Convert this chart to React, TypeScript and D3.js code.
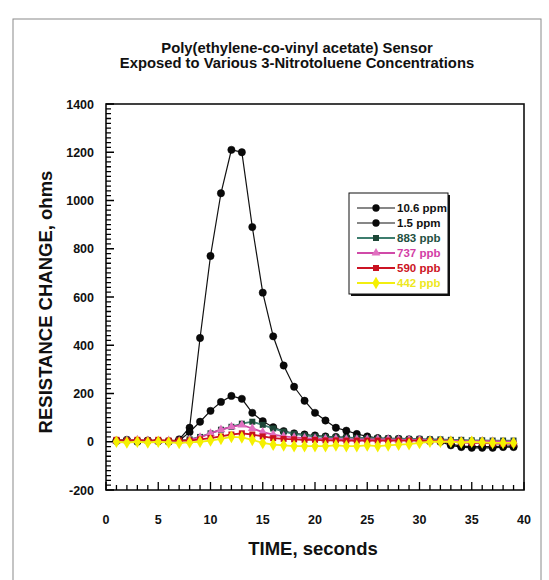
import { useEffect, useRef } from 'react';
import * as d3 from 'd3';

// sample times, seconds
const TIME = [1, 2, 3, 4, 5, 6, 7, 8, 9, 10, 11, 12, 13, 14, 15, 16, 17, 18, 19, 20,
  21, 22, 23, 24, 25, 26, 27, 28, 29, 30, 31, 32, 33, 34, 35, 36, 37, 38, 39];

const PPM_10_6 = [5, 8, 3, 5, 2, 0, 10, 58, 430, 770, 1030, 1210, 1200, 890, 618, 437, 316,
  228, 170, 120, 88, 58, 46, 32, 22, 15, 12, 10, 8, 5, 2, 0, -15, -22, -25, -25, -25, -22, -22];
const PPM_1_5 = [3, 5, 0, 5, 3, 2, 5, 40, 83, 128, 165, 190, 178, 120, 85, 60, 44,
  35, 30, 26, 22, 20, 18, 16, 15, 14, 12, 12, 10, 10, 8, 5, -10, -18, -20, -20, -20, -18, -18];
const PPB_883 = [5, 8, 3, 5, 3, 2, 5, 10, 20, 35, 50, 62, 75, 83, 70, 55, 42,
  33, 27, 22, 20, 18, 17, 16, 15, 15, 14, 13, 12, 12, 10, 10, 8, 8, 6, 6, 5, 5, 5];
const PPB_737 = [3, 5, 8, 5, 3, 5, 3, 8, 18, 35, 50, 62, 70, 55, 40, 30, 22,
  18, 15, 13, 12, 12, 10, 10, 10, 10, 10, 8, 8, 8, 6, 5, 5, 3, 3, 3, 2, 0, 0];
const PPB_590 = [8, 5, 8, 5, 8, 5, 5, 5, 10, 15, 22, 30, 35, 30, 22, 15, 12,
  10, 8, 8, 6, 6, 5, 5, 5, 5, 5, 5, 5, 5, 3, 3, 0, -3, -5, -5, -8, -8, -8];
const PPB_442 = [0, -3, 0, -3, 0, -3, -5, -3, 0, 5, 12, 20, 18, 8, -5, -12, -15,
  -18, -18, -18, -18, -15, -18, -18, -15, -18, -15, -12, -10, -5, 0, 0, 0, -3, 0, -3, -5, -5, -5];

const SERIES_LABELS = ['10.6 ppm', '1.5 ppm', '883 ppb', '737 ppb', '590 ppb', '442 ppb'];
const SERIES_VALUES = [PPM_10_6, PPM_1_5, PPB_883, PPB_737, PPB_590, PPB_442];
const LINE_COLORS = ['#111111', '#111111', '#3e7d6e', '#d04aa8', '#cc1424', '#f2ee10'];
const MARKER_COLORS = ['#0a0a0a', '#0a0a0a', '#1d4636', '#e070c0', '#c8101e', '#f5f000'];
const TEXT_COLORS = ['#111111', '#111111', '#23503f', '#d23ea6', '#cc1424', '#eee820'];
const MARKERS = [d3.symbolCircle, d3.symbolCircle, d3.symbolSquare, d3.symbolTriangle, d3.symbolSquare, d3.symbolDiamond];

const X_TICKS = [0, 5, 10, 15, 20, 25, 30, 35, 40];
const Y_TICKS = [-200, 0, 200, 400, 600, 800, 1000, 1200, 1400];

export default function App() {
  const svgRef = useRef<SVGSVGElement>(null);
  const width = 549;
  const height = 580;

  useEffect(() => {
    if (!svgRef.current) return;
    const svg = d3.select(svgRef.current);
    svg.selectAll('*').remove();

    const font = '"Liberation Sans", Arial, Helvetica, sans-serif';
    const left = 106, right = 524, top = 104, bottom = 490;

    const x = d3.scaleLinear().domain([0, 40]).range([left, right]);
    const y = d3.scaleLinear().domain([-200, 1400]).range([bottom, top]);

    // outer scan frame
    svg.append('rect')
      .attr('x', 13).attr('y', 19).attr('width', 528).attr('height', 570)
      .attr('fill', 'none').attr('stroke', '#8a8a8a').attr('stroke-width', 1);

    // title
    const title = svg.append('g').attr('font-family', font).attr('font-weight', 'bold')
      .attr('font-size', 14.8).attr('text-anchor', 'middle').attr('fill', '#111');
    title.append('text').attr('x', 297).attr('y', 53).text('Poly(ethylene-co-vinyl acetate) Sensor');
    title.append('text').attr('x', 297).attr('y', 68).text('Exposed to Various 3-Nitrotoluene Concentrations');

    // frame
    svg.append('rect')
      .attr('x', left).attr('y', top).attr('width', right - left).attr('height', bottom - top)
      .attr('fill', 'none').attr('stroke', '#111').attr('stroke-width', 1.6);

    // ticks (inward, left and bottom only)
    const yTickPath = d3.range(-200, 1401, 20)
      .map(d => `M${left},${y(d)}H${left + (d % 200 === 0 ? 8 : 5)}`).join('');
    svg.append('path').attr('d', yTickPath)
      .attr('fill', 'none').attr('stroke', '#000').attr('stroke-width', 1.3);
    const xTickPath = d3.range(0, 41, 1)
      .map(d => `M${x(d)},${bottom}V${bottom - (d % 5 === 0 ? 8 : 5)}`).join('');
    svg.append('path').attr('d', xTickPath)
      .attr('fill', 'none').attr('stroke', '#000').attr('stroke-width', 1.3);

    // tick labels
    const labels = svg.append('g').attr('font-family', font).attr('font-weight', 'bold')
      .attr('font-size', 12.5).attr('fill', '#111');
    labels.selectAll('text.y').data(Y_TICKS).enter().append('text')
      .attr('class', 'y')
      .attr('x', 94).attr('y', d => y(d)).attr('dy', '0.36em')
      .attr('text-anchor', 'end').text(d => d);
    labels.selectAll('text.x').data(X_TICKS).enter().append('text')
      .attr('class', 'x')
      .attr('x', d => x(d)).attr('y', 524)
      .attr('text-anchor', 'middle').text(d => d);

    // axis titles
    svg.append('text')
      .attr('x', 313).attr('y', 555)
      .attr('text-anchor', 'middle').attr('font-family', font).attr('font-weight', 'bold')
      .attr('font-size', 18.5).attr('fill', '#111')
      .text('TIME, seconds');
    svg.append('text')
      .attr('transform', `translate(52,${302}) rotate(-90)`)
      .attr('text-anchor', 'middle').attr('font-family', font).attr('font-weight', 'bold')
      .attr('font-size', 18.5).attr('fill', '#111')
      .text('RESISTANCE CHANGE, ohms');

    // series
    const line = d3.line<number>()
      .x((_, i) => x(TIME[i]))
      .y(d => y(d));

    const symbolSize = [42, 42, 36, 34, 36, 46];

    SERIES_VALUES.forEach((vals, s) => {
      const g = svg.append('g');
      g.append('path')
        .attr('d', line(vals))
        .attr('fill', 'none')
        .attr('stroke', LINE_COLORS[s])
        .attr('stroke-width', s < 2 ? 1.2 : 1.8);
      const sym = d3.symbol().type(MARKERS[s]).size(symbolSize[s]);
      g.selectAll('path.m').data(vals).enter().append('path')
        .attr('class', 'm')
        .attr('d', sym)
        .attr('transform', (d, i) => `translate(${x(TIME[i])},${y(d)})`)
        .attr('fill', MARKER_COLORS[s])
        .attr('stroke', s < 2 ? '#000' : 'none')
        .attr('stroke-width', 0.5);
    });

    // legend
    const lg = svg.append('g');
    const lx = 349, ly = 193, lw = 99, lh = 101;
    lg.append('rect').attr('x', lx + 2).attr('y', ly + 2).attr('width', lw).attr('height', lh).attr('fill', '#111');
    lg.append('rect').attr('x', lx).attr('y', ly).attr('width', lw).attr('height', lh)
      .attr('fill', '#fff').attr('stroke', '#111').attr('stroke-width', 1);
    SERIES_LABELS.forEach((label, s) => {
      const ry = 208 + s * 15;
      lg.append('line')
        .attr('x1', 357).attr('x2', 395).attr('y1', ry).attr('y2', ry)
        .attr('stroke', LINE_COLORS[s]).attr('stroke-width', s < 2 ? 1.2 : 2);
      lg.append('path')
        .attr('d', d3.symbol().type(MARKERS[s]).size(symbolSize[s])())
        .attr('transform', `translate(376,${ry})`)
        .attr('fill', MARKER_COLORS[s]);
      lg.append('text')
        .attr('x', 397).attr('y', ry).attr('dy', '0.35em')
        .attr('font-family', font).attr('font-weight', 'bold').attr('font-size', 11.5)
        .attr('fill', TEXT_COLORS[s])
        .text(label);
    });
  }, []);

  return (
    <div style={{ position: 'absolute', left: 0, top: 0, width, height, background: '#fff' }}>
      <svg ref={svgRef} width={width} height={height}></svg>
    </div>
  );
}
